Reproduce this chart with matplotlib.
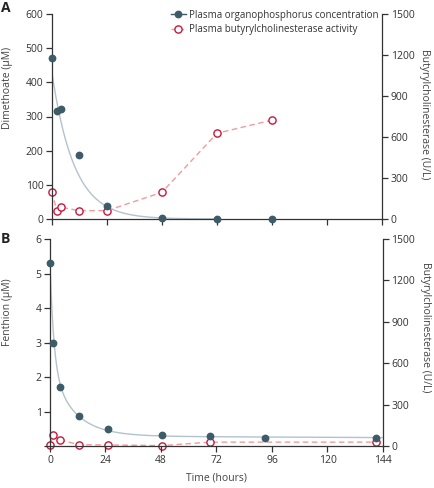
import numpy as np
import matplotlib.pyplot as plt
from matplotlib.lines import Line2D

plt.rcParams['font.family'] = ['Open Sans', 'DejaVu Sans']
plt.rcParams['font.size'] = 7.5

# Panel A: dimethoate
a_time = [0, 2.3, 4.2, 12, 24, 48, 72, 96]
a_conc = [472, 316, 322, 187, 39, 2, 1, 1]
a_bche_time = [0, 2.3, 4.2, 12, 24, 48, 72, 96]
a_bche = [200, 58, 86, 61, 61, 195, 627, 724]
# fitted curve parameters
a_fit = dict(c0=432, k=0.103, tmax=72)

# Panel B: fenthion
b_time = [0, 1.5, 4.5, 12.5, 25, 48.5, 69, 93, 141]
b_conc = [5.3, 3.0, 1.71, 0.88, 0.49, 0.33, 0.30, 0.25, 0.23]
b_bche_time = [0, 1.5, 4.5, 12.5, 25, 48.5, 69, 141]
b_bche = [10, 80, 45, 12, 10, 5, 30, 30]
b_fit = dict(a1=3.0, k1=0.6, a2=2.0, k2=0.1, c=0.3, kc=0.0012, tmax=144)

xticks = [0, 24, 48, 72, 96, 120, 144]

dark = '#3e5b68'
fitcol = '#b3c2cc'
red = '#c8173a'
pink = '#ef9c9c'
axcol = '#333333'
labcol = '#444444'

fig = plt.figure(figsize=(4.35, 4.88), dpi=100)
axA = fig.add_axes([51.7/435, 1-219/488, 330.6/435, 205/488])
axB = fig.add_axes([50/435, 1-446.3/488, 333/435, 207.3/488])


def style(ax, ax2, ylim, yticks, ylabels, rlab_y):
    for a in (ax, ax2):
        a.spines['top'].set_visible(False)
        for s in a.spines.values():
            s.set_color(axcol)
            s.set_linewidth(0.9)
        a.tick_params(colors=axcol, width=0.9, length=4, labelsize=7.5, pad=2)
    ax.spines['right'].set_visible(False)
    ax2.spines['left'].set_visible(False)
    ax2.spines['bottom'].set_visible(False)
    ax.set_xlim(0, 144)
    ax.set_xticks(xticks)
    ax.set_ylim(*ylim)
    ax.set_yticks(yticks)
    ax.set_yticklabels(ylabels)
    ax2.set_ylim(0, 1500)
    ax2.set_yticks([0, 300, 600, 900, 1200, 1500])
    ax2.set_ylabel('Butyrylcholinesterase (U/L)', rotation=270, color=labcol)
    ax2.yaxis.set_label_coords(1.143, rlab_y)


# Panel A
axA2 = axA.twinx()
tt = np.linspace(0, a_fit['tmax'], 300)
axA.plot(tt, a_fit['c0'] * np.exp(-a_fit['k'] * tt), color=fitcol, lw=1, zorder=2)
axA.plot(a_time, a_conc, 'o', color=dark, ms=4.6, zorder=4, clip_on=False)
axA2.plot(a_bche_time, a_bche, '--', color=pink, lw=1, dashes=(4, 2.5),
          marker='o', ms=5.2, mfc='white', mec=red, mew=1, clip_on=False)
a_yt = [0, 100, 200, 300, 400, 500, 600]
style(axA, axA2, (0, 600), a_yt, [str(v) for v in a_yt], 0.51)
axA.set_xticklabels([])
axA.set_ylabel('Dimethoate (μM)', color=labcol)
axA.yaxis.set_label_coords(-0.117, 0.64)
axA.set_zorder(axA2.get_zorder() + 1)
axA.patch.set_visible(False)

h1 = Line2D([], [], color=dark, lw=1, marker='o', ms=4.6)
h2 = Line2D([], [], color=pink, lw=1, ls='--', marker='o', ms=5.2, mfc='white',
            mec=red, mew=1)
leg = axA.legend([h1, h2], ['Plasma organophosphorus concentration',
                            'Plasma butyrylcholinesterase activity'],
                 loc='upper right', bbox_to_anchor=(1.0, 1.04), frameon=False,
                 fontsize=7.0, handlelength=1.5, handletextpad=0.35,
                 labelspacing=0.35, borderaxespad=0)
for t in leg.get_texts():
    t.set_color('#333333')

# Panel B
axB2 = axB.twinx()
tt = np.linspace(0, b_fit['tmax'], 600)
fitB = (b_fit['a1'] * np.exp(-b_fit['k1'] * tt) + b_fit['a2'] * np.exp(-b_fit['k2'] * tt)
        + b_fit['c'] * np.exp(-b_fit['kc'] * tt))
axB.plot(tt, fitB, color=fitcol, lw=1, zorder=2)
axB.plot(b_time, b_conc, 'o', color=dark, ms=4.6, zorder=4, clip_on=False)
axB2.plot(b_bche_time, b_bche, '--', color=pink, lw=1, dashes=(4, 2.5),
          marker='o', ms=5.2, mfc='white', mec=red, mew=1, clip_on=False)
b_yt = [0, 1, 2, 3, 4, 5, 6]
style(axB, axB2, (0, 6), b_yt, [''] + [str(v) for v in b_yt[1:]], 0.575)
axB.set_ylabel('Fenthion (μM)', color=labcol)
axB.yaxis.set_label_coords(-0.11, 0.645)
axB.set_xlabel('Time (hours)', color=labcol, labelpad=5)
axB.set_zorder(axB2.get_zorder() + 1)
axB.patch.set_visible(False)

fig.text(1/435, 1-12/488, 'A', fontsize=10, fontweight='bold', color='#222222')
fig.text(1/435, 1-243/488, 'B', fontsize=10, fontweight='bold', color='#222222')

fig.savefig('out.png', dpi=100)
